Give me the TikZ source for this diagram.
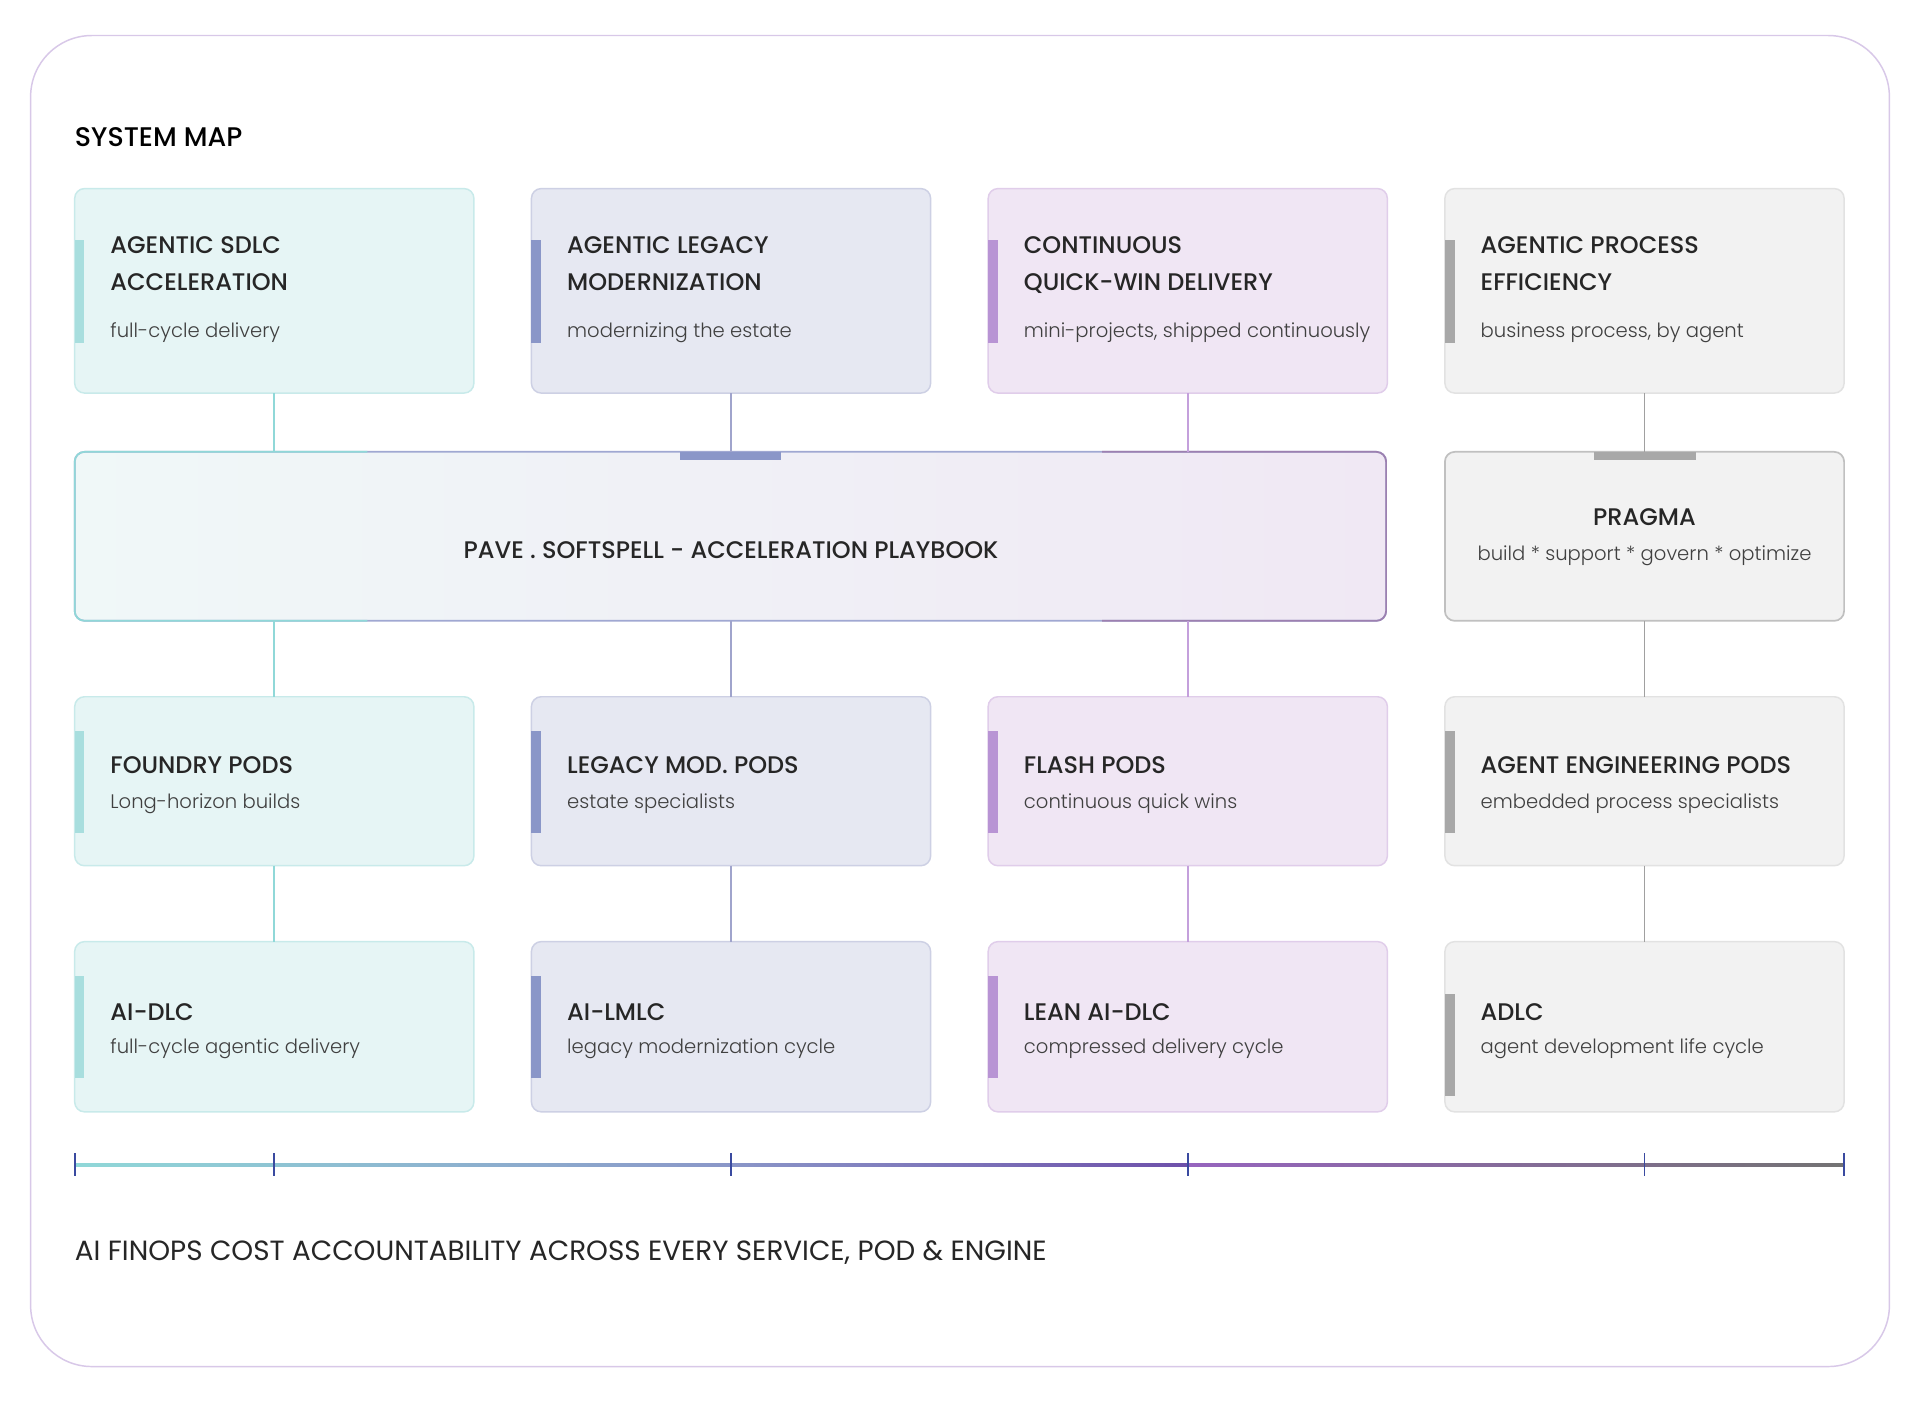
\documentclass[tikz,border=0pt]{standalone}
\usepackage{fontspec}
\setmainfont{Poppins}[BoldFont={Poppins Medium}]
\newfontfamily\lightf{Poppins Light}
\begin{document}
\begin{tikzpicture}[x=1pt,y=-1pt,
  ttl/.style={anchor=base west, inner sep=0pt, font=\fontsize{19.6}{30}\selectfont\bfseries, text=black!85, align=left},
  sub/.style={anchor=base west, inner sep=0pt, font=\fontsize{16}{20}\selectfont\lightf, text=black!75},
  conn/.style={line width=1.4pt}]
\definecolor{fA}{HTML}{E6F5F5}\definecolor{bA}{HTML}{C8EAEA}\definecolor{aA}{HTML}{A8DEDE}\definecolor{lA}{HTML}{90D8D8}
\definecolor{fB}{HTML}{E6E8F2}\definecolor{bB}{HTML}{CDD0E4}\definecolor{aB}{HTML}{8A96C8}\definecolor{lB}{HTML}{A0A4CC}
\definecolor{fC}{HTML}{F0E6F4}\definecolor{bC}{HTML}{E0CDEA}\definecolor{aC}{HTML}{B894D4}\definecolor{lC}{HTML}{C4A0DC}
\definecolor{fD}{HTML}{F2F2F2}\definecolor{bD}{HTML}{E2E2E2}\definecolor{aD}{HTML}{A8A8A8}\definecolor{lD}{HTML}{A0A0A0}
\definecolor{tick}{HTML}{3A4AA0}
\useasboundingbox (0,0) rectangle (1568,1145);
\fill[white] (0,0) rectangle (1568,1145);
\draw[draw={rgb,255:red,216;green,200;blue,232}, line width=1.2pt, rounded corners=50pt] (25,29) rectangle (1543,1116);
\node[anchor=base west, inner sep=0pt, font=\fontsize{22}{24}\selectfont\bfseries] (title) at (61,120) {SYSTEM MAP};
\newcommand\mycard[7]{%
  \draw[fill=f#2, draw=b#2, line width=1.2pt, rounded corners=8pt] (#3,#4) rectangle ++(326,#5-#4);
  \coordinate (#1t) at (#3+163,#4); \coordinate (#1b) at (#3+163,#5);
  \fill[a#2] (#3,#6) rectangle (#3+8,#7);}
% row 1
\mycard{r1a}{A}{61}{154}{321}{196}{280}
\mycard{r1b}{B}{434}{154}{321}{196}{280}
\mycard{r1c}{C}{807}{154}{321}{196}{280}
\mycard{r1d}{D}{1180}{154}{321}{196}{280}
\node[ttl] (t1a) at (90,237) {AGENTIC SDLC\\ACCELERATION};
\node[sub] (s1a) at (90,276) {full-cycle delivery};
\node[ttl] (t1b) at (463,237) {AGENTIC LEGACY\\MODERNIZATION};
\node[sub] (s1b) at (463,276) {modernizing the estate};
\node[ttl] (t1c) at (836,237) {CONTINUOUS\\QUICK-WIN DELIVERY};
\node[sub] (s1c) at (836,276) {mini-projects, shipped continuously};
\node[ttl] (t1d) at (1209,237) {AGENTIC PROCESS\\EFFICIENCY};
\node[sub] (s1d) at (1209,276) {business process, by agent};
% row 3
\mycard{r3a}{A}{61}{569}{707}{597}{680}
\mycard{r3b}{B}{434}{569}{707}{597}{680}
\mycard{r3c}{C}{807}{569}{707}{597}{680}
\mycard{r3d}{D}{1180}{569}{707}{597}{680}
\node[ttl] at (90,632) {FOUNDRY PODS};
\node[sub] at (90,660) {Long-horizon builds};
\node[ttl] at (463,632) {LEGACY MOD. PODS};
\node[sub] at (463,660) {estate specialists};
\node[ttl] at (836,632) {FLASH PODS};
\node[sub] at (836,660) {continuous quick wins};
\node[ttl] at (1209,632) {AGENT ENGINEERING PODS};
\node[sub] at (1209,660) {embedded process specialists};
% row 4
\mycard{r4a}{A}{61}{769}{908}{797}{880}
\mycard{r4b}{B}{434}{769}{908}{797}{880}
\mycard{r4c}{C}{807}{769}{908}{797}{880}
\mycard{r4d}{D}{1180}{769}{908}{812}{895}
\node[ttl] at (90,833) {AI-DLC};
\node[sub] at (90,860) {full-cycle agentic delivery};
\node[ttl] at (463,833) {AI-LMLC};
\node[sub] at (463,860) {legacy modernization cycle};
\node[ttl] at (836,833) {LEAN AI-DLC};
\node[sub] at (836,860) {compressed delivery cycle};
\node[ttl] at (1209,833) {ADLC};
\node[sub] at (1209,860) {agent development life cycle};
% playbook
\shade[left color={rgb,255:red,240;green,248;blue,248}, right color={rgb,255:red,240;green,232;blue,244}, rounded corners=8pt] (61,369) rectangle (1132,507);
\draw[line width=1.4pt, draw={rgb,255:red,160;green,168;blue,210}, rounded corners=8pt] (61,369) rectangle (1132,507);
\draw[line width=1.4pt, draw=lA, rounded corners=8pt] (300,369) -- (61,369) -- (61,507) -- (300,507);
\draw[line width=1.4pt, draw=lC!80!black, rounded corners=8pt] (900,369) -- (1132,369) -- (1132,507) -- (900,507);
\node[font=\fontsize{19.6}{24}\selectfont\bfseries, text=black!85] (pb) at (597,449) {PAVE . SOFTSPELL - ACCELERATION PLAYBOOK};
\fill[aB] (555,369) rectangle (638,376);
% pragma
\draw[fill=fD, draw={rgb,255:red,192;green,192;blue,192}, line width=1.4pt, rounded corners=8pt] (1180,369) rectangle (1506,507);
\fill[aD] (1302,369) rectangle (1385,376);
\node[font=\fontsize{19.6}{24}\selectfont\bfseries, text=black!85] (pr) at (1343,422) {PRAGMA};
\node[font=\fontsize{16}{20}\selectfont\lightf, text=black!75] (prs) at (1343,454) {build * support * govern * optimize};
% connectors
\draw[conn, lA] (r1ab) -- (224,369);
\draw[conn, lB] (r1bb) -- (597,369);
\draw[conn, lC] (r1cb) -- (970,369);
\draw[conn, lD] (r1db) -- (1343,369);
\draw[conn, lA] (224,507) -- (r3at);
\draw[conn, lB] (597,507) -- (r3bt);
\draw[conn, lC] (970,507) -- (r3ct);
\draw[conn, lD] (1343,507) -- (r3dt);
\draw[conn, lA] (r3ab) -- (r4at);
\draw[conn, lB] (r3bb) -- (r4bt);
\draw[conn, lC] (r3cb) -- (r4ct);
\draw[conn, lD] (r3db) -- (r4dt);
% timeline
\coordinate (p0) at (61,951); \coordinate (p1) at (224,951); \coordinate (p2) at (597,951);
\coordinate (p3) at (970,951); \coordinate (p4) at (1343,951); \coordinate (p5) at (1506,951);
\shade[left color=lA, right color=aB] (61,950) rectangle (597,952.4);
\shade[left color=aB, right color={rgb,255:red,110;green,80;blue,170}] (597,950) rectangle (970,952.4);
\shade[left color={rgb,255:red,150;green,100;blue,190}, right color=black!55] (970,950) rectangle (1506,952.4);
\foreach \p in {p0,p1,p2,p3,p4,p5} \draw[tick, line width=1.6pt] ([yshift=-9pt]\p) -- ([yshift=9pt]\p);
\node[anchor=base west, inner sep=0pt, font=\fontsize{22.7}{24}\selectfont, text=black!85] (foot) at (61,1029) {AI FINOPS COST ACCOUNTABILITY ACROSS EVERY SERVICE, POD \& ENGINE};
\end{tikzpicture}
\end{document}
